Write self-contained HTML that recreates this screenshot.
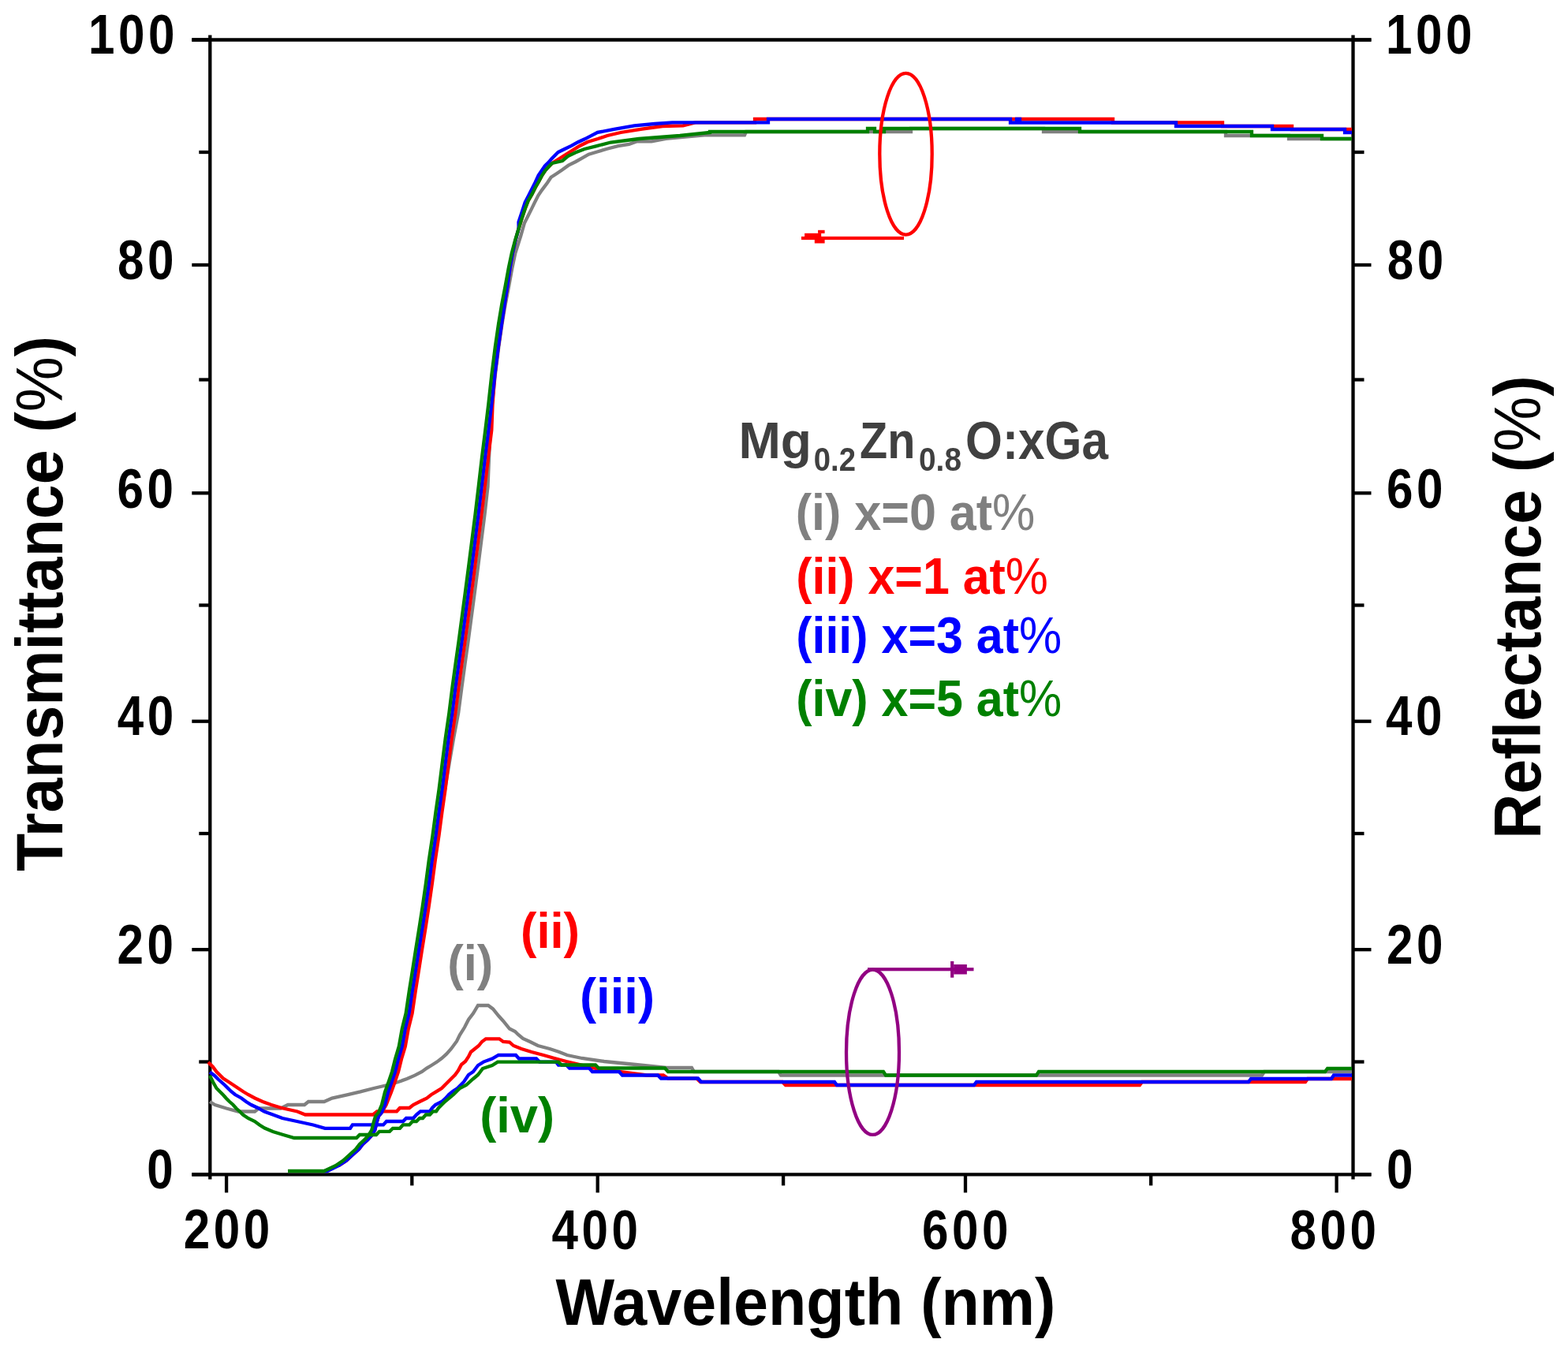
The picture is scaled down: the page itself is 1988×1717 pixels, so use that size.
<!DOCTYPE html>
<html><head><meta charset="utf-8"><title>Transmittance and Reflectance of Mg0.2Zn0.8O:xGa</title>
<style>
html,body{margin:0;padding:0;background:#fff;}
body{width:1988px;height:1717px;overflow:hidden;}
svg{display:block;}
text{font-family:"Liberation Sans",Arial,sans-serif;font-weight:bold;}
</style></head>
<body>
<svg width="1988" height="1717" viewBox="0 0 1988 1717">
<rect width="1988" height="1717" fill="#fff"/>
<g id="axes" stroke="#000" stroke-width="4.3" stroke-linecap="butt">
<line x1="243.3" y1="50.5" x2="1715.5" y2="50.5"/>
<line x1="266.3" y1="1489.4" x2="1738.5" y2="1489.4"/>
<line x1="243.3" y1="1489.4" x2="266.3" y2="1489.4"/>
<line x1="1715.5" y1="50.5" x2="1738.5" y2="50.5"/>
<line x1="266.3" y1="44.5" x2="266.3" y2="1495.4"/>
<line x1="1715.5" y1="44.5" x2="1715.5" y2="1495.4"/>
<line x1="243.3" y1="50.5" x2="266.3" y2="50.5"/>
<line x1="1715.5" y1="50.5" x2="1738.5" y2="50.5"/>
<line x1="243.3" y1="336.0" x2="266.3" y2="336.0"/>
<line x1="1715.5" y1="336.0" x2="1738.5" y2="336.0"/>
<line x1="243.3" y1="625.3" x2="266.3" y2="625.3"/>
<line x1="1715.5" y1="625.3" x2="1738.5" y2="625.3"/>
<line x1="243.3" y1="914.7" x2="266.3" y2="914.7"/>
<line x1="1715.5" y1="914.7" x2="1738.5" y2="914.7"/>
<line x1="243.3" y1="1204.2" x2="266.3" y2="1204.2"/>
<line x1="1715.5" y1="1204.2" x2="1738.5" y2="1204.2"/>
<line x1="243.3" y1="1489.4" x2="266.3" y2="1489.4"/>
<line x1="1715.5" y1="1489.4" x2="1738.5" y2="1489.4"/>
<line x1="252.3" y1="193.0" x2="266.3" y2="193.0"/>
<line x1="1715.5" y1="193.0" x2="1729.5" y2="193.0"/>
<line x1="252.3" y1="481.5" x2="266.3" y2="481.5"/>
<line x1="1715.5" y1="481.5" x2="1729.5" y2="481.5"/>
<line x1="252.3" y1="767.5" x2="266.3" y2="767.5"/>
<line x1="1715.5" y1="767.5" x2="1729.5" y2="767.5"/>
<line x1="252.3" y1="1057.0" x2="266.3" y2="1057.0"/>
<line x1="1715.5" y1="1057.0" x2="1729.5" y2="1057.0"/>
<line x1="252.3" y1="1346.5" x2="266.3" y2="1346.5"/>
<line x1="1715.5" y1="1346.5" x2="1729.5" y2="1346.5"/>
<line x1="287.1" y1="1489.4" x2="287.1" y2="1512.4"/>
<line x1="757.7" y1="1489.4" x2="757.7" y2="1512.4"/>
<line x1="1224.0" y1="1489.4" x2="1224.0" y2="1512.4"/>
<line x1="1694.6" y1="1489.4" x2="1694.6" y2="1512.4"/>
<line x1="522.3" y1="1489.4" x2="522.3" y2="1503.4"/>
<line x1="993.1" y1="1489.4" x2="993.1" y2="1503.4"/>
<line x1="1459.2" y1="1489.4" x2="1459.2" y2="1503.4"/>
</g>
<g id="curves">
<polyline points="429.3,1478.2 439.0,1471.8 447.0,1464.5 455.0,1457.3 459.9,1450.9 466.3,1445.2 471.2,1439.6 475.2,1433.2 477.6,1423.5 480.0,1415.5 484.0,1410.6 488.0,1401.0 492.0,1384.9 496.1,1373.6 501.0,1359.1 505.0,1343.0 509.8,1326.9 513.8,1304.4 518.6,1285.1 522.9,1256.0 526.9,1231.0 531.1,1204.0 535.5,1176.7 539.7,1149.5 543.9,1120.2 547.8,1090.8 553.4,1059.5 558.6,1030.0 564.1,1000.8 569.8,967.0 575.2,935.7 581.2,904.0 585.4,872.0 589.4,842.8 593.5,813.7 597.7,782.3 601.9,750.8 606.0,719.4 610.3,685.6 614.5,652.5 618.5,617.0 620.0,580.8 621.7,545.4 623.7,513.3 627.9,475.0 632.3,440.0 636.5,411.0 640.7,386.0 645.1,363.0 649.3,340.0 653.3,321.0 660.2,299.4 664.8,283.1 669.5,273.8 674.2,264.4 677.6,257.4 682.3,248.1 687.0,241.1 694.0,231.8 698.6,224.8 705.6,220.2 712.6,215.5 720.7,209.7 730.0,205.0 738.2,200.4 746.4,195.7 758.0,192.2 769.7,188.7 783.6,185.2 797.6,182.9 807.0,179.4 826.0,179.4 844.2,175.9 893.0,171.3 944.0,171.3 946.0,167.0 946.0,167.0 1155.0,167.0 1155.0,163.0 1323.0,163.0 1323.0,167.0 1554.0,167.0 1554.0,172.0 1634.0,172.0 1634.0,176.0 1714.0,176.0" fill="none" stroke="#808080" stroke-width="4.3" stroke-linejoin="miter" stroke-miterlimit="2"/>
<polyline points="266.0,1397.0 272.5,1401.0 287.0,1405.5 302.0,1409.5 323.0,1409.5 328.0,1405.5 356.0,1405.5 365.0,1401.0 386.0,1401.0 391.0,1397.0 411.0,1397.0 421.0,1392.6 440.0,1388.4 457.0,1384.4 474.0,1380.0 491.0,1376.0 505.0,1372.0 516.0,1368.0 526.0,1363.6 535.0,1359.0 541.0,1354.6 547.0,1351.0 554.0,1346.6 560.0,1342.0 566.0,1336.6 572.0,1330.0 579.0,1320.5 583.0,1312.4 589.0,1302.8 594.0,1293.0 600.0,1285.0 606.0,1275.0 619.0,1275.0 625.0,1279.4 632.0,1288.0 638.0,1294.7 646.0,1304.5 653.0,1308.0 657.0,1312.0 663.0,1317.0 672.0,1321.0 682.0,1326.0 697.0,1330.0 709.0,1334.0 719.0,1338.0 738.0,1342.0 766.0,1346.0 806.0,1350.0 845.0,1354.0 877.0,1354.0 880.0,1359.0 987.0,1359.0 990.0,1363.5 1600.0,1363.5 1603.0,1359.0 1714.0,1359.0" fill="none" stroke="#808080" stroke-width="4.3" stroke-linejoin="miter" stroke-miterlimit="2"/>
<polyline points="429.3,1478.2 439.0,1471.8 447.0,1464.5 455.0,1457.3 459.9,1450.9 466.3,1445.2 471.2,1439.6 475.2,1433.2 477.6,1423.5 480.0,1415.5 484.0,1410.6 489.6,1401.0 496.0,1384.9 500.1,1373.6 505.0,1359.1 509.0,1343.0 513.8,1326.9 517.8,1304.4 522.6,1285.1 526.9,1256.0 530.9,1231.0 535.1,1204.0 539.5,1176.7 543.7,1149.5 547.9,1120.2 551.8,1090.8 556.5,1059.5 560.4,1030.0 564.6,1000.8 568.8,967.0 572.8,935.7 577.4,904.0 581.4,872.0 585.4,842.8 589.5,813.7 593.7,782.3 597.9,750.8 602.0,719.4 606.3,685.6 610.5,652.5 614.7,617.0 618.9,580.8 623.3,545.4 624.5,513.3 627.4,475.0 631.8,440.0 636.0,411.0 639.7,386.0 643.3,363.0 646.6,340.0 649.9,321.0 653.5,305.0 657.6,290.0 661.6,277.0 665.8,264.5 669.7,254.5 674.4,246.4 678.6,238.0 683.2,230.0 687.4,222.0 691.4,216.0 696.0,211.0 700.0,207.0 709.0,201.2 722.0,193.0 735.0,185.0 745.0,180.0 758.0,176.0 770.0,172.0 787.0,168.0 814.0,163.7 840.0,160.0 866.0,159.4 881.5,155.3 881.5,155.3 957.0,155.3 957.0,151.0 1411.0,151.0 1411.0,155.5 1550.0,155.5 1550.0,160.0 1638.0,160.0 1638.0,164.0 1714.0,164.0" fill="none" stroke="#ff0000" stroke-width="4.3" stroke-linejoin="miter" stroke-miterlimit="2"/>
<polyline points="264.0,1347.0 270.0,1353.0 274.5,1359.0 278.5,1363.0 283.0,1367.5 290.0,1372.0 296.0,1376.0 302.0,1380.0 308.0,1384.0 314.5,1388.0 323.0,1392.5 333.0,1397.0 344.0,1401.0 357.0,1405.0 377.0,1409.5 387.0,1413.5 473.0,1413.5 478.0,1409.3 503.0,1409.3 507.0,1405.0 519.0,1405.0 524.0,1401.0 532.0,1397.0 541.0,1392.6 547.0,1388.0 553.0,1384.4 560.0,1380.0 565.0,1375.0 569.0,1371.0 573.0,1367.0 577.0,1363.0 581.0,1357.5 585.0,1350.0 590.0,1346.0 594.0,1340.0 597.0,1334.0 602.0,1330.0 607.0,1326.0 611.0,1321.0 616.0,1317.3 633.0,1317.3 638.0,1321.0 646.0,1321.5 651.0,1326.0 661.0,1330.0 674.0,1334.0 689.0,1338.0 703.0,1342.0 718.0,1346.0 735.0,1350.0 752.5,1354.5 785.0,1359.0 820.0,1363.5 841.0,1363.5 847.0,1367.5 883.0,1367.5 888.0,1372.0 992.0,1372.0 996.0,1376.0 1445.0,1376.0 1448.0,1372.0 1655.0,1372.0 1658.0,1368.0 1714.0,1368.0" fill="none" stroke="#ff0000" stroke-width="4.3" stroke-linejoin="miter" stroke-miterlimit="2"/>
<polyline points="411.0,1485.0 415.0,1485.0 429.3,1478.2 439.0,1471.8 447.0,1464.5 455.0,1457.3 459.9,1450.9 466.3,1445.2 471.2,1439.6 475.2,1433.2 477.6,1423.5 480.0,1415.5 484.0,1410.6 488.0,1401.0 492.0,1384.9 496.1,1373.6 501.0,1359.1 505.0,1343.0 509.8,1326.9 513.8,1304.4 518.6,1285.1 522.9,1256.0 526.9,1231.0 531.1,1204.0 535.5,1176.7 539.7,1149.5 543.9,1120.2 547.8,1090.8 552.5,1059.5 556.4,1030.0 560.6,1000.8 564.8,967.0 568.8,935.7 573.4,904.0 577.4,872.0 581.4,842.8 585.5,813.7 589.7,782.3 593.9,750.8 598.0,719.4 602.3,685.6 606.5,652.5 610.7,617.0 614.9,580.8 619.3,545.4 623.2,513.3 627.4,475.0 631.8,440.0 636.0,411.0 639.7,386.0 643.3,363.0 646.6,340.0 649.9,321.0 653.5,305.0 657.6,290.0 657.5,281.6 661.7,268.8 665.7,256.7 670.3,247.8 678.5,231.5 682.7,222.2 690.8,210.5 695.5,205.9 699.5,201.2 707.6,193.0 715.8,189.0 724.4,184.9 732.8,180.2 741.4,176.3 749.5,172.1 757.7,167.9 778.7,163.9 804.3,159.3 830.0,157.0 852.4,155.3 852.4,155.3 974.0,155.3 974.0,151.0 1281.0,151.0 1281.0,155.5 1289.0,155.5 1289.0,151.0 1293.0,151.0 1293.0,155.5 1491.0,155.5 1491.0,160.0 1613.0,160.0 1613.0,164.0 1705.0,164.0 1705.0,168.0 1714.0,168.0" fill="none" stroke="#0000ff" stroke-width="4.3" stroke-linejoin="miter" stroke-miterlimit="2"/>
<polyline points="266.0,1359.5 272.0,1364.0 276.5,1368.5 280.5,1372.0 285.0,1376.0 289.0,1380.0 293.0,1384.0 298.0,1388.0 306.0,1392.5 312.0,1397.0 318.5,1401.0 327.0,1405.0 335.0,1409.5 346.0,1413.5 358.0,1418.0 376.5,1422.0 397.0,1426.5 412.0,1430.8 444.0,1430.8 447.0,1426.4 486.0,1426.4 490.0,1422.0 511.0,1422.0 515.0,1418.0 524.0,1418.0 528.0,1413.5 533.0,1409.3 545.0,1409.3 548.0,1405.0 552.0,1401.0 560.0,1397.0 565.0,1392.6 569.0,1388.0 574.0,1384.0 580.0,1380.0 588.0,1372.0 594.0,1363.0 600.0,1359.0 606.0,1351.0 613.0,1346.6 624.0,1342.5 632.0,1338.0 654.0,1338.0 658.0,1342.5 680.0,1342.5 684.0,1346.6 705.0,1346.6 708.0,1350.5 718.0,1350.5 722.0,1354.5 747.0,1354.5 751.0,1359.0 785.0,1359.0 789.0,1363.5 834.0,1363.5 838.0,1367.5 885.0,1367.5 889.0,1372.0 1058.0,1372.0 1061.0,1376.0 1235.0,1376.0 1238.0,1372.0 1583.0,1372.0 1586.0,1368.0 1688.0,1368.0 1691.0,1363.5 1714.0,1363.5" fill="none" stroke="#0000ff" stroke-width="4.3" stroke-linejoin="miter" stroke-miterlimit="2"/>
<polyline points="365.0,1485.0 411.0,1485.0 425.3,1478.2 435.0,1471.8 443.0,1464.5 451.0,1457.3 455.9,1450.9 462.3,1445.2 467.2,1439.6 471.2,1433.2 473.6,1423.5 476.0,1415.5 480.0,1410.6 484.0,1401.0 488.0,1384.9 492.1,1373.6 497.0,1359.1 501.0,1343.0 505.8,1326.9 509.8,1304.4 514.6,1285.1 518.9,1256.0 522.9,1231.0 527.1,1204.0 531.5,1176.7 535.7,1149.5 539.9,1120.2 543.8,1090.8 548.5,1059.5 552.4,1030.0 556.6,1000.8 560.8,967.0 564.8,935.7 569.4,904.0 573.4,872.0 577.4,842.8 581.5,813.7 585.7,782.3 589.9,750.8 594.0,719.4 598.3,685.6 602.5,652.5 606.7,617.0 610.9,580.8 615.3,545.4 619.2,513.3 623.4,475.0 627.8,440.0 632.0,411.0 636.2,386.0 640.6,363.0 644.8,340.0 648.8,321.0 653.0,305.0 657.6,290.0 661.6,277.0 665.8,264.5 669.7,254.5 674.4,246.4 678.6,238.0 683.2,230.0 687.4,222.0 691.4,216.0 696.0,211.0 700.0,207.0 713.0,204.0 720.0,198.0 730.0,193.3 741.0,189.0 755.6,185.3 774.3,180.5 810.0,176.0 862.0,172.0 900.0,168.0 900.0,167.0 1100.0,167.0 1100.0,163.0 1109.0,163.0 1109.0,167.0 1121.0,167.0 1121.0,163.0 1369.0,163.0 1369.0,167.0 1587.0,167.0 1587.0,172.0 1676.0,172.0 1676.0,176.0 1714.0,176.0" fill="none" stroke="#008000" stroke-width="4.3" stroke-linejoin="miter" stroke-miterlimit="2"/>
<polyline points="266.0,1364.0 270.0,1372.0 274.5,1380.0 279.0,1384.5 283.0,1388.5 287.0,1393.0 291.0,1397.0 295.5,1401.0 299.5,1405.5 304.0,1409.5 308.0,1413.5 314.5,1418.0 323.0,1422.0 329.0,1426.5 335.5,1430.5 346.0,1435.0 359.0,1439.0 373.0,1443.0 452.0,1443.0 456.0,1439.0 477.0,1439.0 481.0,1434.8 494.0,1434.8 498.0,1430.8 507.0,1430.8 511.0,1426.4 519.0,1426.4 523.0,1422.0 528.0,1422.0 532.0,1418.0 536.0,1418.0 540.0,1413.5 545.0,1413.5 549.0,1409.3 553.0,1409.3 556.0,1405.0 564.0,1397.0 575.0,1388.0 583.0,1380.0 591.0,1376.0 600.0,1368.0 606.0,1363.0 612.0,1355.0 624.0,1351.0 631.0,1346.6 708.0,1346.6 712.0,1350.5 755.0,1350.5 759.0,1354.5 843.0,1354.5 847.0,1359.0 1120.0,1359.0 1123.0,1363.5 1314.0,1363.5 1317.0,1359.0 1680.0,1359.0 1683.0,1355.0 1714.0,1355.0" fill="none" stroke="#008000" stroke-width="4.3" stroke-linejoin="miter" stroke-miterlimit="2"/>
</g>
<g id="ann">
<ellipse cx="1148.5" cy="195.2" rx="33.2" ry="102.4" fill="none" stroke="#ff0000" stroke-width="4.3"/>
<rect x="1016" y="299.9" width="130" height="4.2" fill="#ff0000"/>
<rect x="1020.1" y="295.8" width="21.1" height="4.2" fill="#ff0000"/>
<rect x="1037.1" y="291.8" width="8.5" height="4.1" fill="#ff0000"/>
<rect x="1032.8" y="304" width="12.8" height="4.5" fill="#ff0000"/>
<ellipse cx="1106.5" cy="1334.3" rx="33.5" ry="104.6" fill="none" stroke="#920082" stroke-width="4.3"/>
<rect x="1100" y="1227.1" width="134.5" height="4.2" fill="#920082"/>
<rect x="1205.1" y="1218.9" width="4.2" height="20.8" fill="#920082"/>
<rect x="1209.2" y="1223" width="16.7" height="12.5" fill="#920082"/>
</g>
<g id="texts">
<text id="yl100" transform="translate(112.00 67.80) scale(0.8600 1)" x="0" y="0" font-size="70.00" letter-spacing="5.25" fill="#000">100</text>
<text id="yl80" transform="translate(149.00 353.80) scale(0.8600 1)" x="0" y="0" font-size="70.00" letter-spacing="5.25" fill="#000">80</text>
<text id="yl60" transform="translate(148.50 643.60) scale(0.8600 1)" x="0" y="0" font-size="70.00" letter-spacing="5.25" fill="#000">60</text>
<text id="yl40" transform="translate(148.80 931.80) scale(0.8600 1)" x="0" y="0" font-size="70.00" letter-spacing="5.25" fill="#000">40</text>
<text id="yl20" transform="translate(148.50 1222.00) scale(0.8600 1)" x="0" y="0" font-size="70.00" letter-spacing="5.25" fill="#000">20</text>
<text id="yl0" transform="translate(186.30 1507.10) scale(0.8600 1)" x="0" y="0" font-size="70.00" letter-spacing="5.25" fill="#000">0</text>
<text id="yr100" transform="translate(1757.00 67.80) scale(0.8600 1)" x="0" y="0" font-size="70.00" letter-spacing="5.25" fill="#000">100</text>
<text id="yr80" transform="translate(1758.70 354.10) scale(0.8600 1)" x="0" y="0" font-size="70.00" letter-spacing="5.25" fill="#000">80</text>
<text id="yr60" transform="translate(1758.00 643.60) scale(0.8600 1)" x="0" y="0" font-size="70.00" letter-spacing="5.25" fill="#000">60</text>
<text id="yr40" transform="translate(1757.00 932.30) scale(0.8600 1)" x="0" y="0" font-size="70.00" letter-spacing="5.25" fill="#000">40</text>
<text id="yr20" transform="translate(1758.00 1222.00) scale(0.8600 1)" x="0" y="0" font-size="70.00" letter-spacing="5.25" fill="#000">20</text>
<text id="yr0" transform="translate(1758.00 1506.60) scale(0.8600 1)" x="0" y="0" font-size="70.00" letter-spacing="5.25" fill="#000">0</text>
<text id="x200" transform="translate(232.70 1583.20) scale(0.8600 1)" x="0" y="0" font-size="70.00" letter-spacing="5.25" fill="#000">200</text>
<text id="x400" transform="translate(699.50 1583.70) scale(0.8600 1)" x="0" y="0" font-size="70.00" letter-spacing="5.25" fill="#000">400</text>
<text id="x600" transform="translate(1169.00 1583.70) scale(0.8600 1)" x="0" y="0" font-size="70.00" letter-spacing="5.25" fill="#000">600</text>
<text id="x800" transform="translate(1635.50 1583.70) scale(0.8600 1)" x="0" y="0" font-size="70.00" letter-spacing="5.25" fill="#000">800</text>
<text id="xt" x="704.60" y="1679.60" font-size="84.00" fill="#000" textLength="633.81" lengthAdjust="spacingAndGlyphs">Wavelength (nm)</text>
<text id="ytl" x="79.00" y="1105.00" font-size="84.00" fill="#000" textLength="679.00" lengthAdjust="spacingAndGlyphs" transform="rotate(-90 79.0 1105.0)">Transmittance (<tspan font-weight="normal">%</tspan>)</text>
<text id="ytr" x="1953.00" y="1063.80" font-size="84.00" fill="#000" textLength="587.49" lengthAdjust="spacingAndGlyphs" transform="rotate(-90 1953.0 1063.8)">Reflectance (<tspan font-weight="normal">%</tspan>)</text>
<text id="l1" x="1008.80" y="672.00" font-size="64.00" fill="#808080" textLength="303.58" lengthAdjust="spacingAndGlyphs">(i) x=0 at<tspan font-weight="normal">%</tspan></text>
<text id="l2" x="1009.20" y="752.80" font-size="64.00" fill="#ff0000" textLength="319.78" lengthAdjust="spacingAndGlyphs">(ii) x=1 at<tspan font-weight="normal">%</tspan></text>
<text id="l3" x="1009.20" y="828.40" font-size="64.00" fill="#0000ff" textLength="337.02" lengthAdjust="spacingAndGlyphs">(iii) x=3 at<tspan font-weight="normal">%</tspan></text>
<text id="l4" x="1009.20" y="907.70" font-size="64.00" fill="#008000" textLength="337.01" lengthAdjust="spacingAndGlyphs">(iv) x=5 at<tspan font-weight="normal">%</tspan></text>
<text id="a1" x="567.20" y="1243.40" font-size="63.50" fill="#808080" textLength="58.05" lengthAdjust="spacingAndGlyphs">(i)</text>
<text id="a2" x="660.00" y="1201.50" font-size="63.50" fill="#ff0000" textLength="75.09" lengthAdjust="spacingAndGlyphs">(ii)</text>
<text id="a3" x="735.00" y="1285.40" font-size="63.50" fill="#0000ff" textLength="95.09" lengthAdjust="spacingAndGlyphs">(iii)</text>
<text id="a4" x="608.20" y="1436.30" font-size="63.50" fill="#008000" textLength="94.96" lengthAdjust="spacingAndGlyphs">(iv)</text>
<text id="mg1" x="936.40" y="580.70" font-size="65.40" fill="#404040" textLength="92.54" lengthAdjust="spacingAndGlyphs">Mg</text>
<text id="mg2" x="1031.80" y="597.30" font-size="41.68" fill="#404040" textLength="53.20" lengthAdjust="spacingAndGlyphs">0.2</text>
<text id="mg3" x="1090.00" y="580.90" font-size="65.59" fill="#404040" textLength="70.33" lengthAdjust="spacingAndGlyphs">Zn</text>
<text id="mg4" x="1165.00" y="597.30" font-size="41.68" fill="#404040" textLength="54.00" lengthAdjust="spacingAndGlyphs">0.8</text>
<text id="mg5" x="1224.00" y="581.50" font-size="68.31" fill="#404040" textLength="181.02" lengthAdjust="spacingAndGlyphs">O:xGa</text>
</g>
</svg>
</body></html>
